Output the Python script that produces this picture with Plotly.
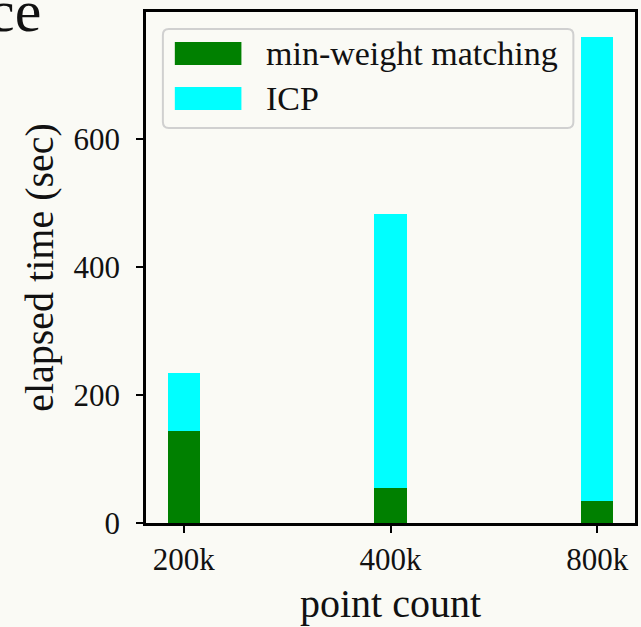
import plotly.graph_objects as go

categories = ["200k", "400k", "800k"]
series_names = ["min-weight matching", "ICP"]
min_weight = [144, 55, 34]
icp = [90, 428, 725]
colors = ["#008000", "#00ffff"]
y_ticks = [0, 200, 400, 600]

W, H = 641, 627
L, R, T, B = 146, 3, 12, 104
pw, ph = W - L - R, H - T - B
bg = "#fafaf5"
FONT = "Liberation Serif"

def px(x):
    return (x - L) / pw

def py(y):
    return (H - B - y) / ph

fig = go.Figure()
for name, vals, col in zip(series_names, [min_weight, icp], colors):
    fig.add_trace(go.Bar(x=categories, y=vals, name=name, marker=dict(color=col, line=dict(width=0)),
                         width=0.155, showlegend=False))

fig.update_layout(
    width=W, height=H, barmode="stack",
    margin=dict(l=L, r=R, t=T, b=B),
    paper_bgcolor=bg, plot_bgcolor=bg,
    font=dict(family=FONT, color="#111111"),
    xaxis=dict(range=[-0.1827, 2.1827], showline=True, linecolor="black", linewidth=2.5, mirror=True,
               ticks="outside", ticklen=7, tickwidth=2, tickcolor="black",
               tickfont=dict(size=31, family=FONT), showgrid=False, zeroline=False,
               title=dict(text="point count", font=dict(size=40, family=FONT), standoff=14)),
    yaxis=dict(range=[0, 798], showline=True, linecolor="black", linewidth=2.5, mirror=True,
               ticks="outside", ticklen=7, tickwidth=2, tickcolor="black",
               tickvals=y_ticks, ticktext=[str(v) for v in y_ticks],
               ticklabelposition="outside", ticklabelstandoff=10,
               tickfont=dict(size=31, family=FONT), showgrid=False, zeroline=False,
               title=dict(text="elapsed time (sec)", font=dict(size=40, family=FONT), standoff=8)),
)

# legend box with rounded corners
x0, x1, y0, y1, r = 163, 576, 29, 128, 6
path = (f"M {px(x0 + r)},{py(y0)} L {px(x1 - r)},{py(y0)} Q {px(x1)},{py(y0)} {px(x1)},{py(y0 + r)} "
        f"L {px(x1)},{py(y1 - r)} Q {px(x1)},{py(y1)} {px(x1 - r)},{py(y1)} "
        f"L {px(x0 + r)},{py(y1)} Q {px(x0)},{py(y1)} {px(x0)},{py(y1 - r)} "
        f"L {px(x0)},{py(y0 + r)} Q {px(x0)},{py(y0)} {px(x0 + r)},{py(y0)} Z")
fig.add_shape(type="path", path=path, xref="paper", yref="paper",
              line=dict(color="#cccccc", width=2), fillcolor=bg, opacity=0.9)

rows = [(42, 65), (87, 110)]
for (ya, yb), name, col in zip(rows, series_names, colors):
    fig.add_shape(type="rect", xref="paper", yref="paper", x0=px(175), x1=px(242), y0=py(yb), y1=py(ya),
                  fillcolor=col, line=dict(width=0))
    fig.add_annotation(text=name, xref="paper", yref="paper", x=px(265), y=py((ya + yb) / 2),
                       xanchor="left", yanchor="middle", showarrow=False,
                       font=dict(size=34, family=FONT, color="#111111"))

# partial title text cut off at the top-left (as in the reference)
fig.add_annotation(text="ce", xref="paper", yref="paper", x=px(42), y=py(11), xanchor="right",
                   yanchor="middle", showarrow=False, font=dict(size=60, family=FONT, color="#111111"))

fig.write_html("out.html")
